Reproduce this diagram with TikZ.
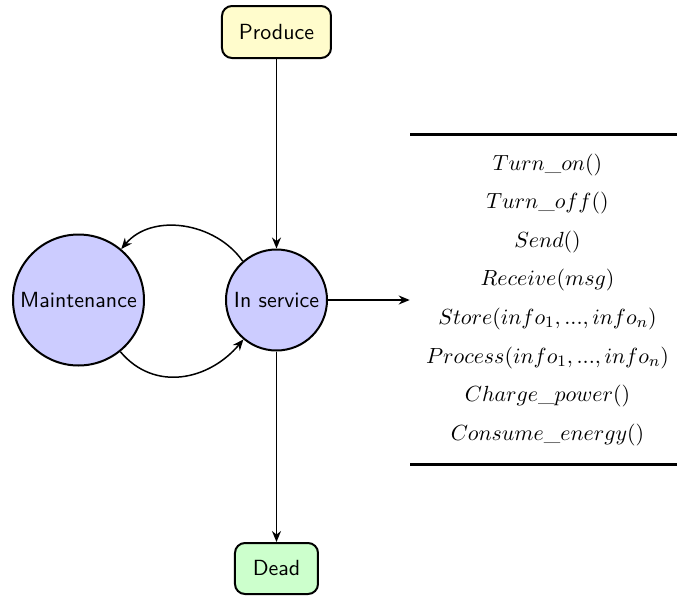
\documentclass[tikz,border=0pt,11pt]{standalone}
\usepackage{booktabs}
\usetikzlibrary{arrows.meta}
\begin{document}
\begin{tikzpicture}[x=0.5pt,y=-0.5pt,
  statebox/.style={draw, line width=1pt, rounded corners=5pt, font=\sffamily, inner sep=0pt},
  statecircle/.style={draw, line width=1pt, circle, fill=blue!20, font=\sffamily, inner sep=0pt},
  conn/.style={-{Stealth[length=5.5pt,width=4.5pt]}, line width=0.75pt}]
\useasboundingbox (0,0) rectangle (677,596);
\node[statebox, fill=yellow!20, minimum width=54.5pt, minimum height=26pt] (produce) at (276.5,32) {Produce};
\node[statecircle, minimum size=50.5pt] (service) at (276.5,300) {In service};
\node[statecircle, minimum size=65.5pt] (maint) at (78.5,300) {Maintenance};
\node[statebox, fill=green!20, minimum width=41.5pt, minimum height=25.5pt] (dead) at (276.5,568.5) {Dead};
\node[inner sep=0pt] (ops) at (543.5,299.5) {\renewcommand{\arraystretch}{1.42}%
\setlength{\belowrulesep}{3.3pt}\setlength{\aboverulesep}{5.3pt}%
\begin{tabular}{@{\hspace{8pt}}c@{\hspace{4pt}}}
\toprule[1.5pt]
$Turn\_on()$\\
$Turn\_off()$\\
$Send()$\\
$Receive(msg)$\\
$Store(info_1,...,info_n)$\\
$Process(info_1,...,info_n)$\\
$Charge\_power()$\\
$Consume\_energy()$\\
\bottomrule[1.5pt]
\end{tabular}};
\draw[conn] (produce) -- (service);
\draw[conn] (service) -- (dead);
\draw[conn] (service.east) -- (service.east -| ops.west);
\draw[conn] (service.131) to[out=125,in=50] (maint.50);
\draw[conn] (maint.-51) to[out=-50,in=-130,looseness=1.1] (service.-130);
\end{tikzpicture}
\end{document}
